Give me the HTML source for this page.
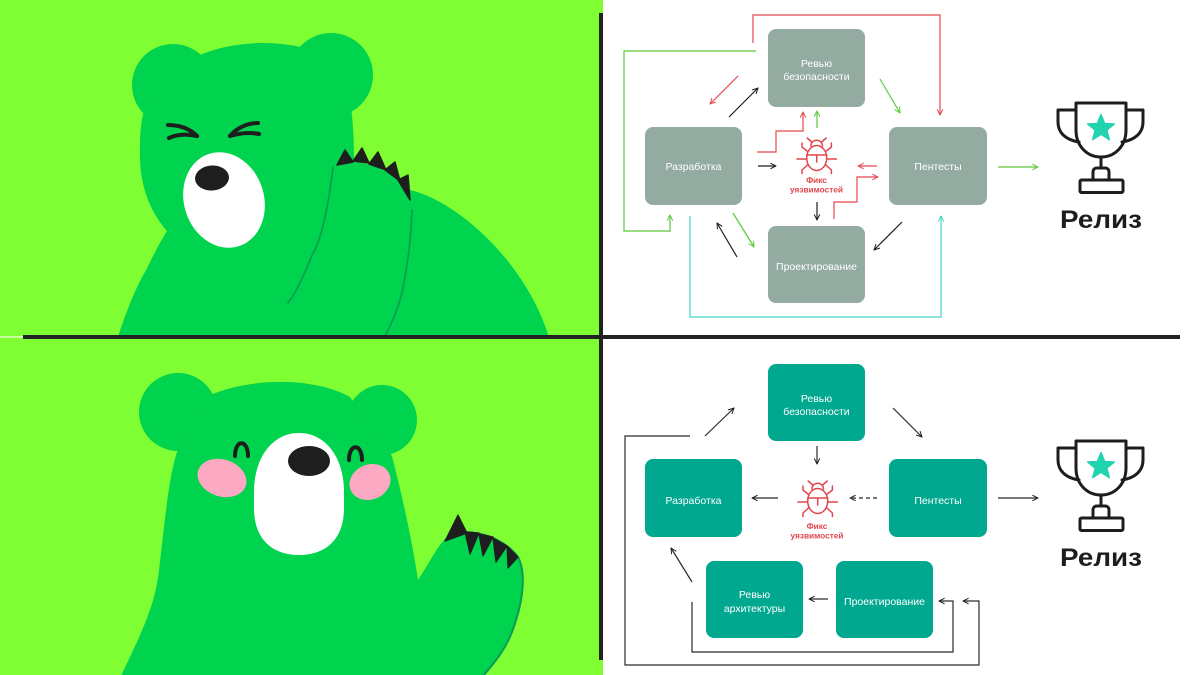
<!DOCTYPE html>
<html>
<head>
<meta charset="utf-8">
<style>
html,body{margin:0;padding:0;width:1200px;height:675px;overflow:hidden;background:#fff;}
svg{display:block;}
text{font-family:"Liberation Sans","DejaVu Sans",sans-serif;}
</style>
</head>
<body>
<svg width="1200" height="675" viewBox="0 0 1200 675" xmlns="http://www.w3.org/2000/svg">
<defs>
  <marker id="mk" viewBox="0 0 10 10" refX="9" refY="5" markerWidth="7" markerHeight="7" markerUnits="userSpaceOnUse" orient="auto"><path d="M1,1 L9,5 L1,9" fill="none" stroke="#1e1e1e" stroke-width="1.4"/></marker>
  <marker id="mr" viewBox="0 0 10 10" refX="9" refY="5" markerWidth="7" markerHeight="7" markerUnits="userSpaceOnUse" orient="auto"><path d="M1,1 L9,5 L1,9" fill="none" stroke="#e5484d" stroke-width="1.4"/></marker>
  <marker id="mg" viewBox="0 0 10 10" refX="9" refY="5" markerWidth="7" markerHeight="7" markerUnits="userSpaceOnUse" orient="auto"><path d="M1,1 L9,5 L1,9" fill="none" stroke="#5cc83c" stroke-width="1.4"/></marker>
  <marker id="mc" viewBox="0 0 10 10" refX="9" refY="5" markerWidth="7" markerHeight="7" markerUnits="userSpaceOnUse" orient="auto"><path d="M1,1 L9,5 L1,9" fill="none" stroke="#45d6c8" stroke-width="1.4"/></marker>
  <g id="bug" stroke="#e0474c" stroke-width="1.5" fill="none" stroke-linecap="round" stroke-linejoin="round">
    <path d="M810.9,146 A5.8,5.8 0 0 1 822.5,146"/>
    <path d="M811.8,142 L807.2,138"/>
    <path d="M821.6,142 L826.2,138"/>
    <ellipse cx="816.7" cy="158" rx="10" ry="12.5"/>
    <path d="M806.7,155 L826.7,155 M816.7,155 L816.7,162"/>
    <path d="M807,151 L802,147 L802,143 M806.7,159 L797,159 M807.5,165 L802,170 L802,173.5"/>
    <path d="M826.4,151 L831.4,147 L831.4,143 M826.7,159 L836.4,159 M825.9,165 L831.4,170 L831.4,173.5"/>
  </g>
  <g id="trophy">
    <g fill="none" stroke="#1d1d1d" stroke-width="3" stroke-linejoin="round" stroke-linecap="round">
      <path d="M1076,103 L1126,103 L1126,130 C1126,146 1115,157 1101,157 C1087,157 1076,146 1076,130 Z"/>
      <path d="M1076,110 L1058,110 L1058,122 C1058,133 1066,140 1079,142"/>
      <path d="M1126,110 L1143,110 L1143,122 C1143,133 1135,140 1122,142"/>
      <path d="M1101,157 L1101,168"/>
      <path d="M1093,180 L1093,172 C1093,169 1095,168 1097,168 L1105,168 C1107,168 1109,169 1109,172 L1109,180"/>
      <rect x="1080" y="180" width="43" height="12.5" rx="1.5"/>
    </g>
    <path d="M1101,114.5 L1104.6,123.5 L1114.3,124 L1106.8,130.2 L1109.3,139.6 L1101,134.3 L1092.7,139.6 L1095.2,130.2 L1087.7,124 L1097.4,123.5 Z" fill="#22d3b0" stroke="#22d3b0" stroke-width="1.5" stroke-linejoin="round"/>
    <text x="1101" y="228" font-size="25" font-weight="bold" fill="#1d1d1d" text-anchor="middle" textLength="82" lengthAdjust="spacingAndGlyphs">Релиз</text>
  </g>
</defs>

<!-- left panel background -->
<rect x="0" y="0" width="603" height="675" fill="#7fff33"/>

<!-- ===== TOP BEAR ===== -->
<g>
  <circle cx="173" cy="85" r="41" fill="#00d34e"/>
  <circle cx="331" cy="75" r="42" fill="#00d34e"/>
  <path d="M118,337 C128,305 140,280 145,272 C152,258 160,242 167,231 C152,214 141,190 140,160 C139,130 142,110 150,95 L200,55 C230,42 270,40 300,47 L345,80 C352,100 354,130 354,162 C375,163 397,176 410,190 C455,200 525,260 549,337 Z" fill="#00d34e"/>
  <!-- snout -->
  <ellipse cx="224" cy="200" rx="40" ry="48.5" transform="rotate(-18 224 200)" fill="#ffffff"/>
  <ellipse cx="212" cy="178" rx="17" ry="12.5" transform="rotate(-4 212 178)" fill="#1e1e1e"/>
  <!-- eyes -->
  <g fill="none" stroke="#1e1e1e" stroke-width="4" stroke-linecap="round">
    <path d="M168,125 C180,125 190,129 197,136"/>
    <path d="M169,138 C178,134 188,134 197,136"/>
    <path d="M258,123 C246,123 236,129 230,136"/>
    <path d="M259,134 C250,132 240,133 230,136"/>
  </g>
  <!-- claws -->
  <g fill="#1e1e1e" stroke="#1e1e1e" stroke-width="1.5" stroke-linejoin="round">
    <path d="M337,165 L345,150 L353,162 Z"/>
    <path d="M353,161 L362,148 L369,163 Z"/>
    <path d="M369,164 L378,152 L386,170 Z"/>
    <path d="M385,170 L395,162 L400,181 Z"/>
    <path d="M398,180 L408,175 L410,200 Z"/>
  </g>
  <!-- arm lines -->
  <g fill="none" stroke="#0c9a52" stroke-width="1.6" stroke-linecap="round">
    <path d="M333,167 C330,195 322,240 313,253 C305,272 298,290 288,303"/>
    <path d="M412,210 C411,240 408,262 402,293 C397,312 391,325 385,336"/>
  </g>
</g>

<!-- ===== BOTTOM BEAR ===== -->
<g>
  <circle cx="178" cy="412" r="39" fill="#00d34e"/>
  <circle cx="382" cy="420" r="35" fill="#00d34e"/>
  <path d="M121,676 C135,645 155,610 159,570 C164,530 168,480 177,452 L200,400 C240,378 310,375 350,397 L392,456 C402,495 412,540 418,580 C428,565 438,545 447,537 C465,528 495,533 515,553 C526,565 524,600 512,632 C505,650 495,662 484,676 Z" fill="#00d34e"/>
  <path d="M466,532 C492,533 510,546 518,557 C526,572 524,600 512,632 C505,650 495,662 483,676" fill="none" stroke="#0c9a55" stroke-width="2"/>
  <!-- cheeks -->
  <ellipse cx="222" cy="478" rx="25" ry="18.5" transform="rotate(18 222 478)" fill="#fda9c4"/>
  <ellipse cx="370" cy="482" rx="21" ry="17.5" transform="rotate(-22 370 482)" fill="#fda9c4"/>
  <!-- snout -->
  <path d="M299,433 C326,433 344,458 344,492 L344,508 C344,540 325,555 299,555 C273,555 254,540 254,508 L254,492 C254,458 272,433 299,433 Z" fill="#ffffff"/>
  <ellipse cx="309" cy="461" rx="21" ry="15" fill="#1e1e1e"/>
  <!-- eyes -->
  <g fill="none" stroke="#1e1e1e" stroke-width="4" stroke-linecap="round">
    <path d="M235,456 C235,439 248,439 248,456"/>
    <path d="M349,460 C349,443 362,443 362,460"/>
  </g>
  <!-- claws -->
  <g fill="#1e1e1e" stroke="#1e1e1e" stroke-width="1.2" stroke-linejoin="round">
    <path d="M445,541 L458,515 L467,533 Z"/>
    <path d="M465,532 L479,533 L470,554 Z"/>
    <path d="M479,534 L493,537 L483,556 Z"/>
    <path d="M493,538 L507,546 L496,562 Z"/>
    <path d="M507,546 L518,557 L508,568 Z"/>
  </g>
</g>

<!-- dividers -->
<rect x="0" y="336" width="23" height="2" fill="#c3ff9e"/>
<rect x="23" y="335" width="1157" height="4" fill="#222222"/>
<rect x="599" y="13" width="4" height="647" fill="#222222"/>

<!-- ===== TOP DIAGRAM ===== -->
<g fill="#93aba1">
  <rect x="768" y="29" width="97" height="78" rx="8"/>
  <rect x="645" y="127" width="97" height="78" rx="8"/>
  <rect x="889" y="127" width="98" height="78" rx="8"/>
  <rect x="768" y="226" width="97" height="77" rx="8"/>
</g>
<g fill="#ffffff" font-size="10.5" text-anchor="middle">
  <text x="816.5" y="67">Ревью</text>
  <text x="816.5" y="80">безопасности</text>
  <text x="693.5" y="170">Разработка</text>
  <text x="938" y="170">Пентесты</text>
  <text x="816.5" y="270">Проектирование</text>
</g>
<g fill="none" stroke-width="1.2">
  <polyline points="753,43 753,15 940,15 940,115" stroke="#e5484d" marker-end="url(#mr)"/>
  <polyline points="756,51 624,51 624,231 670,231 670,215" stroke="#5cc83c" marker-end="url(#mg)"/>
  <line x1="738" y1="76" x2="710" y2="104" stroke="#e5484d" marker-end="url(#mr)"/>
  <line x1="729" y1="117" x2="758" y2="88" stroke="#1e1e1e" marker-end="url(#mk)"/>
  <line x1="880" y1="79" x2="900" y2="113" stroke="#5cc83c" marker-end="url(#mg)"/>
  <polyline points="757,152 776,152 776,131 803,131 803,112" stroke="#e5484d" marker-end="url(#mr)"/>
  <line x1="817" y1="128" x2="817" y2="111" stroke="#5cc83c" marker-end="url(#mg)"/>
  <line x1="758" y1="166" x2="776" y2="166" stroke="#1e1e1e" marker-end="url(#mk)"/>
  <line x1="877" y1="166" x2="858" y2="166" stroke="#e5484d" marker-end="url(#mr)"/>
  <polyline points="834,219 834,202 857,202 857,177 878,177" stroke="#e5484d" marker-end="url(#mr)"/>
  <line x1="817" y1="202" x2="817" y2="220" stroke="#1e1e1e" marker-end="url(#mk)"/>
  <line x1="733" y1="213" x2="754" y2="247" stroke="#5cc83c" marker-end="url(#mg)"/>
  <line x1="737" y1="257" x2="717" y2="223" stroke="#1e1e1e" marker-end="url(#mk)"/>
  <line x1="902" y1="222" x2="874" y2="250" stroke="#1e1e1e" marker-end="url(#mk)"/>
  <polyline points="690,216 690,317 941,317 941,216" stroke="#45d6c8" marker-end="url(#mc)"/>
  <line x1="998" y1="167" x2="1038" y2="167" stroke="#5cc83c" marker-end="url(#mg)"/>
</g>
<use href="#bug"/>
<g fill="#e0474c" font-size="8.3" font-weight="bold" text-anchor="middle">
  <text x="816.5" y="183">Фикс</text>
  <text x="816.5" y="192.5">уязвимостей</text>
</g>
<use href="#trophy"/>

<!-- ===== BOTTOM DIAGRAM ===== -->
<g fill="#00a88f">
  <rect x="768" y="364" width="97" height="77" rx="8"/>
  <rect x="645" y="459" width="97" height="78" rx="8"/>
  <rect x="889" y="459" width="98" height="78" rx="8"/>
  <rect x="706" y="561" width="97" height="77" rx="8"/>
  <rect x="836" y="561" width="97" height="77" rx="8"/>
</g>
<g fill="#ffffff" font-size="10.5" text-anchor="middle">
  <text x="816.5" y="402">Ревью</text>
  <text x="816.5" y="415">безопасности</text>
  <text x="693.5" y="504">Разработка</text>
  <text x="938" y="504">Пентесты</text>
  <text x="754.5" y="598">Ревью</text>
  <text x="754.5" y="612">архитектуры</text>
  <text x="884.5" y="605">Проектирование</text>
</g>
<g fill="none" stroke="#2a2a2a" stroke-width="1.2">
  <line x1="705" y1="436" x2="734" y2="408" marker-end="url(#mk)"/>
  <line x1="893" y1="408" x2="922" y2="437" marker-end="url(#mk)"/>
  <line x1="817" y1="446" x2="817" y2="464" marker-end="url(#mk)"/>
  <line x1="778" y1="498" x2="752" y2="498" marker-end="url(#mk)"/>
  <line x1="877" y1="498" x2="850" y2="498" stroke-dasharray="4 3" marker-end="url(#mk)"/>
  <line x1="998" y1="498" x2="1038" y2="498" marker-end="url(#mk)"/>
  <line x1="828" y1="599" x2="809" y2="599" marker-end="url(#mk)"/>
  <line x1="692" y1="582" x2="671" y2="548" marker-end="url(#mk)"/>
  <polyline points="692,602 692,652 953,652 953,601 939,601" marker-end="url(#mk)"/>
  <polyline points="690,436 625,436 625,665 979,665 979,601 963,601" marker-end="url(#mk)"/>
</g>
<use href="#bug" transform="translate(1,343)"/>
<g fill="#e0474c" font-size="8.3" font-weight="bold" text-anchor="middle">
  <text x="817" y="529">Фикс</text>
  <text x="817" y="538.5">уязвимостей</text>
</g>
<use href="#trophy" transform="translate(0,338)"/>
</svg>
</body>
</html>
